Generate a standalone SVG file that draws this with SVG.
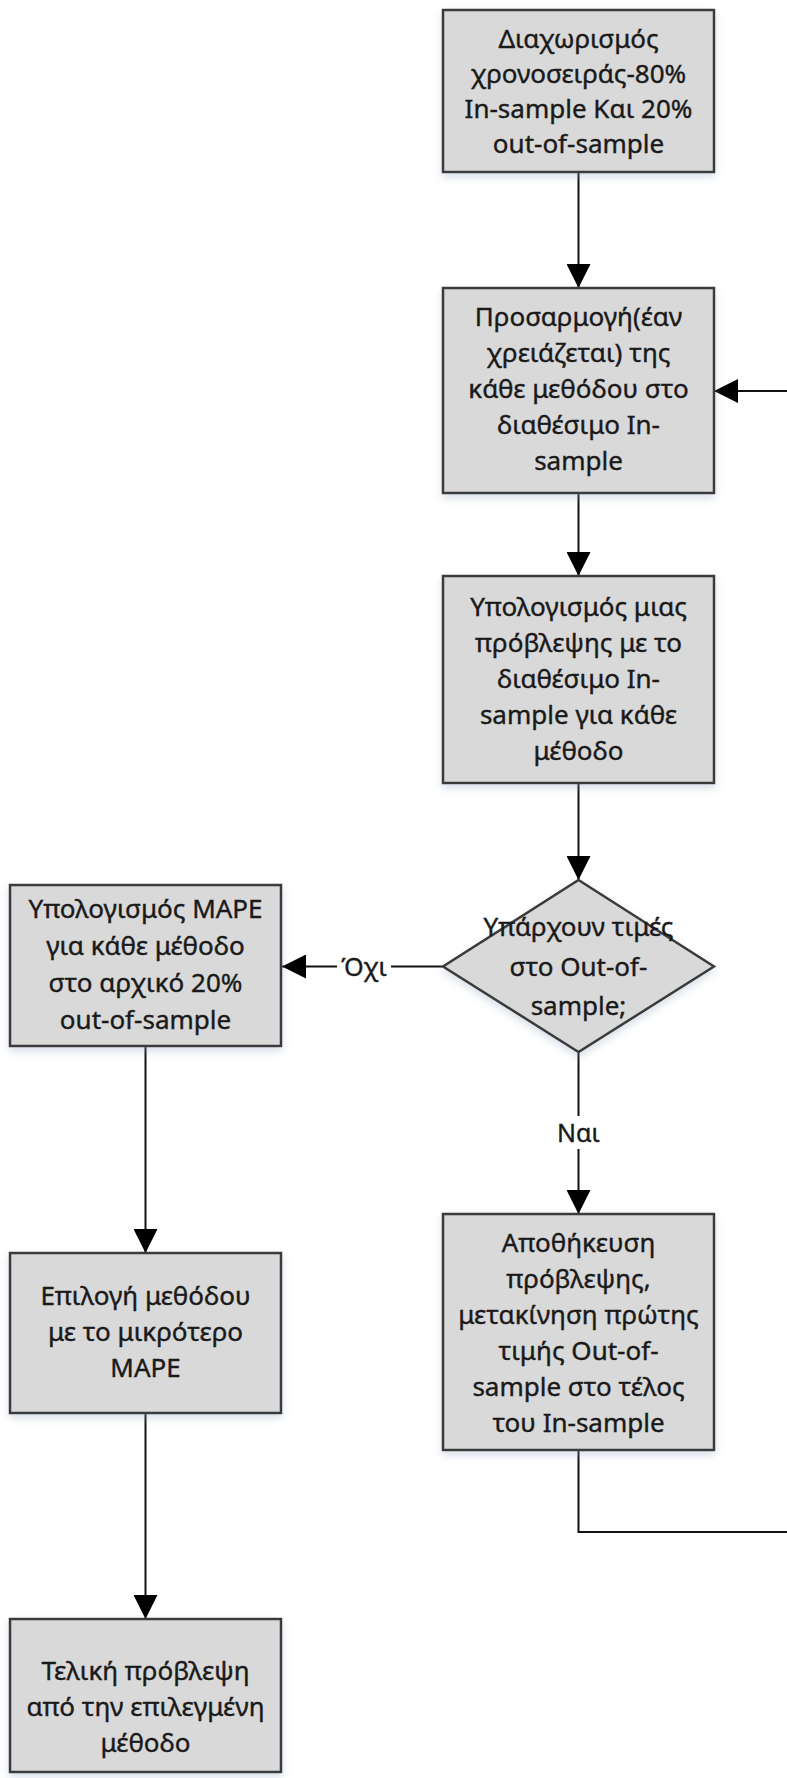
<svg xmlns="http://www.w3.org/2000/svg" width="787" height="1778" viewBox="0 0 787 1778">
<style>
.box{fill:#d9d9d9;stroke:#3a3a3a;stroke-width:2.5;filter:url(#sh)}
.t{font-family:"Noto Sans","Open Sans","DejaVu Sans",sans-serif;font-size:26px;fill:#1a1a1a;stroke:#1a1a1a;stroke-width:0.4;text-anchor:middle}
.lbl{font-family:"Noto Sans","Open Sans","DejaVu Sans",sans-serif;font-size:25px;fill:#1a1a1a;stroke:#1a1a1a;stroke-width:0.4;text-anchor:middle}
.c{fill:none;stroke:#111;stroke-width:2}
</style>
<defs>
<filter id="sh" x="-10%" y="-10%" width="120%" height="130%">
<feDropShadow dx="0" dy="4" stdDeviation="4" flood-color="#8fa3bf" flood-opacity="0.35"/>
</filter>
<marker id="ah" viewBox="0 0 24 24" refX="24" refY="12" markerWidth="24" markerHeight="24" markerUnits="userSpaceOnUse" orient="auto">
<path d="M0,0 L24,12 L0,24 z" fill="#000"/>
</marker>
</defs>
<rect width="787" height="1778" fill="#fff"/>
<g id="connectors">
<path class="c" d="M578.5 172 V288" marker-end="url(#ah)"/>
<path class="c" d="M578.5 493 V576" marker-end="url(#ah)"/>
<path class="c" d="M578.5 783 V880" marker-end="url(#ah)"/>
<path class="c" d="M443 966.5 H282" marker-end="url(#ah)"/>
<path class="c" d="M578.5 1052 V1214" marker-end="url(#ah)"/>
<path class="c" d="M578.5 1450 V1532 H792 V391 H714" marker-end="url(#ah)"/>
<path class="c" d="M145.5 1046 V1253" marker-end="url(#ah)"/>
<path class="c" d="M145.5 1413 V1619" marker-end="url(#ah)"/>
<rect x="337" y="950" width="54" height="34" fill="#fff"/>
<text class="lbl" x="364" y="976">Όχι</text>
<rect x="552" y="1116" width="53" height="33" fill="#fff"/>
<text class="lbl" x="578.5" y="1142">Ναι</text>
</g>
<g id="n1">
<rect class="box" x="443" y="10" width="271" height="162"/>
<text class="t" x="578.5" y="48">Διαχωρισμός</text>
<text class="t" x="578.5" y="83">χρονοσειράς-80%</text>
<text class="t" x="578.5" y="118">In-sample Και 20%</text>
<text class="t" x="578.5" y="153">out-of-sample</text>
</g>
<g id="n2">
<rect class="box" x="443" y="288" width="271" height="205"/>
<text class="t" x="578.5" y="326">Προσαρμογή(έαν</text>
<text class="t" x="578.5" y="362">χρειάζεται) της</text>
<text class="t" x="578.5" y="398">κάθε μεθόδου στο</text>
<text class="t" x="578.5" y="434">διαθέσιμο In-</text>
<text class="t" x="578.5" y="470">sample</text>
</g>
<g id="n3">
<rect class="box" x="443" y="576" width="271" height="207"/>
<text class="t" x="578.5" y="616">Υπολογισμός μιας</text>
<text class="t" x="578.5" y="652">πρόβλεψης με το</text>
<text class="t" x="578.5" y="688">διαθέσιμο In-</text>
<text class="t" x="578.5" y="724">sample για κάθε</text>
<text class="t" x="578.5" y="760">μέθοδο</text>
</g>
<g id="n4">
<polygon class="box" points="578.5,880 714,966.5 578.5,1052 443,966.5"/>
<text class="t" x="578.5" y="936">Υπάρχουν τιμές</text>
<text class="t" x="578.5" y="976">στο Out-of-</text>
<text class="t" x="578.5" y="1015">sample;</text>
</g>
<g id="n5">
<rect class="box" x="10" y="885" width="271" height="161"/>
<text class="t" x="145.5" y="918">Υπολογισμός MAPE</text>
<text class="t" x="145.5" y="955">για κάθε μέθοδο</text>
<text class="t" x="145.5" y="992">στο αρχικό 20%</text>
<text class="t" x="145.5" y="1029">out-of-sample</text>
</g>
<g id="n6">
<rect class="box" x="443" y="1214" width="271" height="236"/>
<text class="t" x="578.5" y="1252">Αποθήκευση</text>
<text class="t" x="578.5" y="1288">πρόβλεψης,</text>
<text class="t" x="578.5" y="1324">μετακίνηση πρώτης</text>
<text class="t" x="578.5" y="1360">τιμής Out-of-</text>
<text class="t" x="578.5" y="1396">sample στο τέλος</text>
<text class="t" x="578.5" y="1432">του In-sample</text>
</g>
<g id="n7">
<rect class="box" x="10" y="1253" width="271" height="160"/>
<text class="t" x="145.5" y="1305">Επιλογή μεθόδου</text>
<text class="t" x="145.5" y="1341">με το μικρότερο</text>
<text class="t" x="145.5" y="1377">MAPE</text>
</g>
<g id="n8">
<rect class="box" x="10" y="1619" width="271" height="153"/>
<text class="t" x="145.5" y="1680">Τελική πρόβλεψη</text>
<text class="t" x="145.5" y="1716">από την επιλεγμένη</text>
<text class="t" x="145.5" y="1752">μέθοδο</text>
</g>
</svg>
